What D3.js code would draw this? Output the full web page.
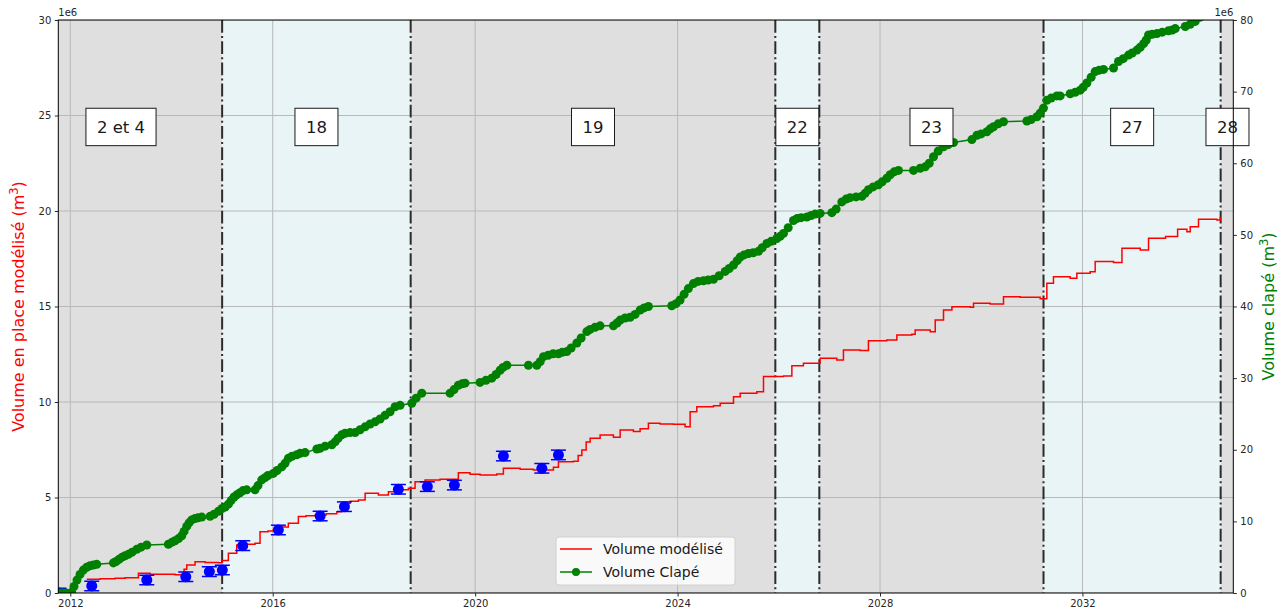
<!DOCTYPE html>
<html>
<head>
<meta charset="utf-8">
<script src="https://cdn.jsdelivr.net/npm/d3@7"></script>
<style>
  body { margin: 0; background: #fff; }
  svg { font-family: "DejaVu Sans", sans-serif; }
</style>
</head>
<body>
<svg id="chart" width="1288" height="616"></svg>
<script>
// ---- data (years as decimal years, volumes in millions of m3) ----
const PERIOD_BOUNDS = [2011.0, 2015.0, 2018.725, 2025.93, 2026.80, 2031.23, 2034.73, 2035.0];
const PERIOD_LABELS = ["2 et 4", "18", "19", "22", "23", "27", "28"];

const X_TICK_YEARS = [2012, 2016, 2020, 2024, 2028, 2032];
const LEFT_TICKS = [0, 5, 10, 15, 20, 25, 30];
const RIGHT_TICKS = [0, 10, 20, 30, 40, 50, 60, 70, 80];

// modelled volume (left axis)
const MODEL_POINTS = [
  [2012.324, 0.72], [2012.587, 0.75], [2012.883, 0.77], [2013.081, 0.80], [2013.344, 1.03],
  [2013.575, 0.98], [2013.937, 0.98], [2014.069, 0.95], [2014.202, 0.85], [2014.247, 1.25],
  [2014.300, 1.47], [2014.464, 1.64], [2014.662, 1.60], [2014.925, 1.59], [2014.998, 1.70],
  [2015.123, 2.08], [2015.289, 2.51], [2015.453, 2.55], [2015.650, 2.60], [2015.749, 3.21],
  [2015.907, 3.25], [2016.012, 3.30], [2016.184, 3.45], [2016.308, 3.65], [2016.506, 4.00],
  [2016.658, 4.05], [2016.836, 4.08], [2017.053, 4.15], [2017.265, 4.26], [2017.364, 4.70],
  [2017.528, 4.80], [2017.692, 4.87], [2017.824, 5.22], [2018.087, 5.13], [2018.285, 5.30],
  [2018.476, 5.40], [2018.680, 5.48], [2018.812, 5.83], [2019.010, 5.92], [2019.306, 5.95],
  [2019.569, 5.95], [2019.668, 6.30], [2019.899, 6.22], [2020.097, 6.18], [2020.427, 6.23],
  [2020.557, 6.53], [2020.887, 6.48], [2021.150, 6.44], [2021.545, 6.58], [2021.644, 6.87],
  [2021.941, 6.90], [2022.034, 7.20], [2022.107, 7.49], [2022.192, 7.90], [2022.271, 8.10],
  [2022.468, 8.27], [2022.731, 8.15], [2022.864, 8.53], [2023.126, 8.45], [2023.259, 8.60],
  [2023.423, 8.89], [2023.654, 8.85], [2023.917, 8.83], [2024.148, 8.71], [2024.247, 9.49],
  [2024.379, 9.75], [2024.708, 9.80], [2024.840, 9.93], [2025.103, 10.28], [2025.235, 10.46],
  [2025.565, 10.54], [2025.696, 11.33], [2026.091, 11.36], [2026.257, 11.90], [2026.486, 12.03],
  [2026.816, 12.29], [2027.146, 12.20], [2027.277, 12.72], [2027.607, 12.69], [2027.771, 13.21],
  [2028.134, 13.25], [2028.332, 13.51], [2028.628, 13.55], [2028.693, 13.77], [2028.990, 13.68],
  [2029.089, 14.29], [2029.253, 14.82], [2029.419, 14.99], [2029.781, 14.96], [2029.846, 15.17],
  [2030.176, 15.13], [2030.439, 15.51], [2030.769, 15.48], [2031.164, 15.40], [2031.296, 16.22],
  [2031.427, 16.56], [2031.757, 16.48], [2031.889, 16.74], [2032.152, 16.82], [2032.251, 17.35],
  [2032.613, 17.30], [2032.779, 18.05], [2033.140, 17.96], [2033.304, 18.57], [2033.640, 18.66],
  [2033.879, 19.04], [2034.063, 18.92], [2034.128, 19.18], [2034.292, 19.57], [2034.656, 19.53],
  [2034.722, 19.70]
];

// measured volume with error bars (left axis)
const MEASURE_POINTS = [
  [2011.777, 0.00], [2012.423, 0.37], [2013.510, 0.68], [2014.281, 0.85], [2014.747, 1.12],
  [2015.004, 1.20], [2015.407, 2.48], [2016.111, 3.30], [2016.935, 4.03], [2017.415, 4.52],
  [2018.482, 5.43], [2019.055, 5.57], [2019.589, 5.65], [2020.557, 7.17], [2021.316, 6.53],
  [2021.644, 7.23]
];
const MEASURE_ERRORS = [0.25, 0.25, 0.25, 0.25, 0.25, 0.25, 0.25, 0.25, 0.25, 0.25, 0.25, 0.25, 0.25, 0.25, 0.25, 0.25];

// dumped volume (right axis)
const CLAPE_POINTS = [
  [2011.763, 0], [2011.836, 0], [2011.915, 0], [2012.028, 0.1], [2012.073, 0.9], [2012.132, 1.8],
  [2012.192, 2.6], [2012.257, 3.2], [2012.324, 3.6], [2012.389, 3.8], [2012.455, 3.9], [2012.522, 4.0],
  [2012.850, 4.2], [2012.903, 4.4], [2012.962, 4.7], [2013.022, 5.0], [2013.081, 5.2], [2013.146, 5.4],
  [2013.219, 5.7], [2013.312, 6.1], [2013.397, 6.4], [2013.510, 6.7],
  [2013.937, 6.8], [2014.010, 7.1], [2014.069, 7.3], [2014.138, 7.6], [2014.202, 8.0], [2014.247, 8.6],
  [2014.300, 9.3], [2014.346, 9.8], [2014.399, 10.2], [2014.464, 10.4], [2014.524, 10.5], [2014.597, 10.6],
  [2014.761, 10.7], [2014.840, 11.0], [2014.925, 11.4], [2014.998, 11.8], [2015.057, 12.0], [2015.123, 12.4],
  [2015.176, 12.9], [2015.235, 13.4], [2015.289, 13.7], [2015.354, 14.0], [2015.413, 14.3], [2015.486, 14.4],
  [2015.650, 14.4], [2015.709, 15.0], [2015.783, 15.8], [2015.848, 16.1], [2015.907, 16.4], [2016.012, 16.7],
  [2016.085, 17.1], [2016.178, 17.6], [2016.243, 18.1], [2016.308, 18.8], [2016.381, 19.1], [2016.474, 19.3],
  [2016.540, 19.5], [2016.638, 19.6], [2016.870, 20.1], [2016.935, 20.2], [2017.034, 20.5], [2017.166, 20.7],
  [2017.231, 21.1], [2017.291, 21.6], [2017.364, 22.1], [2017.429, 22.3], [2017.528, 22.4], [2017.626, 22.4],
  [2017.725, 22.8], [2017.824, 23.2], [2017.923, 23.6], [2018.021, 23.9], [2018.120, 24.3], [2018.219, 24.8],
  [2018.318, 25.3], [2018.417, 26.0], [2018.516, 26.2], [2018.747, 26.5], [2018.832, 27.2], [2018.945, 27.9],
  [2019.504, 27.9], [2019.583, 28.4], [2019.668, 29.0], [2019.741, 29.2], [2019.800, 29.3], [2020.097, 29.4],
  [2020.215, 29.7], [2020.328, 30.0], [2020.413, 30.5], [2020.492, 31.1], [2020.551, 31.5], [2020.625, 31.8],
  [2021.051, 31.8], [2021.217, 31.8], [2021.283, 32.3], [2021.348, 33.0], [2021.441, 33.2], [2021.540, 33.4],
  [2021.644, 33.4], [2021.718, 33.6], [2021.810, 33.7], [2021.895, 34.2], [2022.008, 34.9], [2022.093, 35.6],
  [2022.206, 36.5], [2022.271, 36.8], [2022.370, 37.1], [2022.468, 37.3],
  [2022.731, 37.3], [2022.804, 37.7], [2022.864, 38.1], [2022.962, 38.4], [2023.061, 38.5], [2023.160, 38.9],
  [2023.259, 39.5], [2023.338, 39.8], [2023.423, 40.0],
  [2023.885, 40.1], [2023.970, 40.4], [2024.049, 40.9], [2024.128, 41.7], [2024.213, 42.5], [2024.312, 43.2],
  [2024.405, 43.5], [2024.510, 43.6], [2024.603, 43.7], [2024.708, 43.8], [2024.820, 44.3], [2024.939, 44.9],
  [2025.018, 45.3], [2025.103, 45.8], [2025.176, 46.4], [2025.235, 46.9], [2025.314, 47.2], [2025.399, 47.4],
  [2025.492, 47.5], [2025.597, 47.7], [2025.670, 48.2], [2025.763, 48.8], [2025.848, 49.1], [2025.960, 49.5],
  [2026.026, 49.8], [2026.091, 50.2], [2026.184, 51.0], [2026.289, 52.0], [2026.362, 52.3], [2026.441, 52.4],
  [2026.553, 52.5], [2026.638, 52.7], [2026.717, 52.9], [2026.816, 53.0],
  [2027.047, 53.1], [2027.132, 53.6], [2027.245, 54.6], [2027.330, 55.0], [2027.409, 55.2], [2027.527, 55.3],
  [2027.640, 55.4], [2027.705, 55.8], [2027.771, 56.3], [2027.864, 56.7], [2027.968, 57.0], [2028.042, 57.4],
  [2028.134, 57.9], [2028.200, 58.4], [2028.279, 58.8], [2028.364, 59.0],
  [2028.660, 59.0], [2028.793, 59.3], [2028.891, 59.5], [2028.970, 60.0], [2029.055, 60.9], [2029.148, 61.7],
  [2029.253, 62.3], [2029.346, 62.6], [2029.451, 62.9],
  [2029.814, 63.3], [2029.913, 63.9], [2029.998, 64.1], [2030.111, 64.4], [2030.176, 64.8], [2030.241, 65.1],
  [2030.334, 65.5], [2030.439, 65.8],
  [2030.901, 65.9], [2030.986, 66.1], [2031.099, 66.5], [2031.164, 67.0], [2031.229, 67.7], [2031.296, 68.8],
  [2031.382, 69.1], [2031.494, 69.4],
  [2031.559, 69.4], [2031.757, 69.7], [2031.856, 69.9], [2031.955, 70.2], [2032.014, 70.6], [2032.087, 71.2],
  [2032.172, 72.0], [2032.251, 72.8], [2032.330, 73.0], [2032.415, 73.1], [2032.613, 73.3], [2032.711, 74.2],
  [2032.804, 74.6], [2032.909, 75.1], [2032.982, 75.4], [2033.075, 75.8], [2033.140, 76.2], [2033.206, 76.7],
  [2033.259, 77.2], [2033.304, 77.9], [2033.377, 78.0], [2033.470, 78.1], [2033.575, 78.3], [2033.700, 78.5],
  [2033.773, 78.6], [2033.832, 78.8],
  [2034.030, 79.1], [2034.128, 79.4], [2034.227, 79.8], [2034.326, 80.4], [2034.445, 81.0]
];

// ---- layout ----
const WIDTH = 1288, HEIGHT = 616;
const PLOT_LEFT = 58.3, PLOT_RIGHT = 1233.3, PLOT_TOP = 20, PLOT_BOTTOM = 593;

/**
 * Turns a decimal year (2016.5) into a Date
 */
function toDate(y) {
    const yr = Math.floor(y);
    const start = new Date(yr, 0, 1), end = new Date(yr + 1, 0, 1);
    return new Date(start.getTime() + (y - yr) * (end - start));
}

const svg = d3.select("#chart");

const x = d3.scaleTime()
    .domain([toDate(2011.763), toDate(2034.98)])
    .range([PLOT_LEFT, PLOT_RIGHT]);
const yLeft = d3.scaleLinear().domain([0, 30]).range([PLOT_BOTTOM, PLOT_TOP]);
const yRight = d3.scaleLinear().domain([0, 80]).range([PLOT_BOTTOM, PLOT_TOP]);

svg.append("defs").append("clipPath").attr("id", "plot-clip")
    .append("rect")
    .attr("x", PLOT_LEFT).attr("y", PLOT_TOP)
    .attr("width", PLOT_RIGHT - PLOT_LEFT).attr("height", PLOT_BOTTOM - PLOT_TOP);

const plot = svg.append("g").attr("clip-path", "url(#plot-clip)");

// background bands, alternating grey / light blue
const periods = PERIOD_LABELS.map((label, i) => ({
    label: label,
    start: PERIOD_BOUNDS[i],
    end: PERIOD_BOUNDS[i + 1],
    i: i
}));

plot.selectAll("rect.band")
    .data(periods)
    .join("rect")
    .attr("class", "band")
    .attr("x", d => x(toDate(d.start)))
    .attr("width", d => x(toDate(d.end)) - x(toDate(d.start)))
    .attr("y", PLOT_TOP)
    .attr("height", PLOT_BOTTOM - PLOT_TOP)
    .attr("fill", d => d.i % 2 === 0 ? "#dfdfdf" : "#e9f4f7");

// grid
plot.selectAll("line.vgrid")
    .data(X_TICK_YEARS)
    .join("line")
    .attr("x1", d => x(toDate(d))).attr("x2", d => x(toDate(d)))
    .attr("y1", PLOT_TOP).attr("y2", PLOT_BOTTOM)
    .attr("stroke", "#b8b8b8").attr("stroke-width", 1);
plot.selectAll("line.hgrid")
    .data(LEFT_TICKS)
    .join("line")
    .attr("x1", PLOT_LEFT).attr("x2", PLOT_RIGHT)
    .attr("y1", d => yLeft(d)).attr("y2", d => yLeft(d))
    .attr("stroke", "#b8b8b8").attr("stroke-width", 1);

// period separators
plot.selectAll("line.sep")
    .data(PERIOD_BOUNDS.slice(1, -1))
    .join("line")
    .attr("x1", d => x(toDate(d))).attr("x2", d => x(toDate(d)))
    .attr("y1", PLOT_TOP).attr("y2", PLOT_BOTTOM)
    .attr("stroke", "#2b2b2b").attr("stroke-width", 2)
    .attr("stroke-dasharray", "12.8,3.2,2,3.2");

// modelled volume
const modelLine = d3.line()
    .x(d => x(toDate(d[0])))
    .y(d => yLeft(d[1]))
    .curve(d3.curveStepAfter);
plot.append("path")
    .datum(MODEL_POINTS)
    .attr("d", modelLine)
    .attr("fill", "none")
    .attr("stroke", "red")
    .attr("stroke-width", 1.5);

// measured points with error bars
const meas = plot.selectAll("g.meas")
    .data(MEASURE_POINTS.map((p, i) => ({ t: p[0], v: p[1], e: MEASURE_ERRORS[i] })))
    .join("g")
    .attr("class", "meas");
meas.append("line")
    .attr("x1", d => x(toDate(d.t))).attr("x2", d => x(toDate(d.t)))
    .attr("y1", d => yLeft(d.v - d.e)).attr("y2", d => yLeft(d.v + d.e))
    .attr("stroke", "blue").attr("stroke-width", 1.5);
[-1, 1].forEach(s => {
    meas.append("line")
        .attr("x1", d => x(toDate(d.t)) - 7.5).attr("x2", d => x(toDate(d.t)) + 7.5)
        .attr("y1", d => yLeft(d.v + s * d.e)).attr("y2", d => yLeft(d.v + s * d.e))
        .attr("stroke", "blue").attr("stroke-width", 1.5);
});
meas.append("circle")
    .attr("cx", d => x(toDate(d.t)))
    .attr("cy", d => yLeft(d.v))
    .attr("r", 5.5)
    .attr("fill", "blue");

// dumped volume (twin axis)
const clapeLine = d3.line()
    .x(d => x(toDate(d[0])))
    .y(d => yRight(d[1]));
plot.append("path")
    .datum(CLAPE_POINTS)
    .attr("d", clapeLine)
    .attr("fill", "none")
    .attr("stroke", "green")
    .attr("stroke-width", 1.5);
plot.selectAll("circle.clape")
    .data(CLAPE_POINTS)
    .join("circle")
    .attr("class", "clape")
    .attr("cx", d => x(toDate(d[0])))
    .attr("cy", d => yRight(d[1]))
    .attr("r", 4.5)
    .attr("fill", "green");

// period labels in boxes
const LABEL_VALUE = 24.4;
const labels = svg.selectAll("g.plabel")
    .data(periods)
    .join("g")
    .attr("class", "plabel")
    .attr("transform", d => "translate(" + x(toDate((d.start + d.end) / 2)) + "," + yLeft(LABEL_VALUE) + ")");
labels.append("rect");
labels.append("text")
    .attr("text-anchor", "middle")
    .attr("dy", "0.36em")
    .attr("font-size", 16.5)
    .attr("fill", "#1a1a1a")
    .text(d => d.label);
labels.each(function () {
    const g = d3.select(this);
    const w = g.select("text").node().getComputedTextLength();
    g.select("rect")
        .attr("x", -w / 2 - 11).attr("width", w + 22)
        .attr("y", -18.7).attr("height", 37.4)
        .attr("fill", "white").attr("stroke", "#1a1a1a").attr("stroke-width", 1);
});

// spines
svg.append("rect")
    .attr("x", PLOT_LEFT).attr("y", PLOT_TOP)
    .attr("width", PLOT_RIGHT - PLOT_LEFT).attr("height", PLOT_BOTTOM - PLOT_TOP)
    .attr("fill", "none").attr("stroke", "#000").attr("stroke-width", 1);

// axes
const xAxis = d3.axisBottom(x)
    .tickValues(X_TICK_YEARS.map(toDate))
    .tickFormat(d3.timeFormat("%Y"))
    .tickSize(3.5).tickPadding(3.5);
const leftAxis = d3.axisLeft(yLeft).tickValues(LEFT_TICKS).tickFormat(d3.format("d"))
    .tickSize(3.5).tickPadding(3.5);
const rightAxis = d3.axisRight(yRight).tickValues(RIGHT_TICKS).tickFormat(d3.format("d"))
    .tickSize(3.5).tickPadding(3.5);

function styleAxis(g) {
    g.select(".domain").remove();
    g.selectAll("text").attr("font-size", 10).attr("fill", "#262626")
        .attr("font-family", "DejaVu Sans, sans-serif");
    g.selectAll("line").attr("stroke", "#262626");
}
svg.append("g").attr("transform", "translate(0," + PLOT_BOTTOM + ")").call(xAxis).call(styleAxis);
svg.append("g").attr("transform", "translate(" + PLOT_LEFT + ",0)").call(leftAxis).call(styleAxis);
svg.append("g").attr("transform", "translate(" + PLOT_RIGHT + ",0)").call(rightAxis).call(styleAxis);

// offset labels
svg.append("text").attr("x", PLOT_LEFT).attr("y", PLOT_TOP - 4)
    .attr("font-size", 10).attr("fill", "#262626").text("1e6");
svg.append("text").attr("x", PLOT_RIGHT).attr("y", PLOT_TOP - 4)
    .attr("text-anchor", "end")
    .attr("font-size", 10).attr("fill", "#262626").text("1e6");

// axis titles
const leftTitle = svg.append("text")
    .attr("transform", "translate(24," + (PLOT_TOP + PLOT_BOTTOM) / 2 + ") rotate(-90)")
    .attr("text-anchor", "middle")
    .attr("font-size", 16)
    .attr("fill", "red");
leftTitle.append("tspan").text("Volume en place modélisé (m");
leftTitle.append("tspan").attr("dy", -6).attr("font-size", 11.5).text("3");
leftTitle.append("tspan").attr("dy", 6).text(")");

const rightTitle = svg.append("text")
    .attr("transform", "translate(1274," + (PLOT_TOP + PLOT_BOTTOM) / 2 + ") rotate(-90)")
    .attr("text-anchor", "middle")
    .attr("font-size", 16)
    .attr("fill", "green");
rightTitle.append("tspan").text("Volume clapé (m");
rightTitle.append("tspan").attr("dy", -6).attr("font-size", 11.5).text("3");
rightTitle.append("tspan").attr("dy", 6).text(")");

// legend
const legend = svg.append("g").attr("transform", "translate(556,537)");
legend.append("rect")
    .attr("width", 179).attr("height", 48).attr("rx", 3)
    .attr("fill", "white").attr("fill-opacity", 0.8)
    .attr("stroke", "#d0d0d0").attr("stroke-width", 1);
const legendItems = [
    { name: "Volume modélisé", color: "red", marker: false },
    { name: "Volume Clapé", color: "green", marker: true }
];
legendItems.forEach((item, i) => {
    const row = legend.append("g").attr("transform", "translate(0," + (12 + i * 23) + ")");
    row.append("line").attr("x1", 4).attr("x2", 36)
        .attr("stroke", item.color).attr("stroke-width", 1.5);
    if (item.marker) {
        row.append("circle").attr("cx", 20).attr("r", 4).attr("fill", item.color);
    }
    row.append("text").attr("x", 47).attr("dy", "0.36em")
        .attr("font-size", 14).attr("fill", "#1a1a1a").text(item.name);
});
</script>
</body>
</html>
